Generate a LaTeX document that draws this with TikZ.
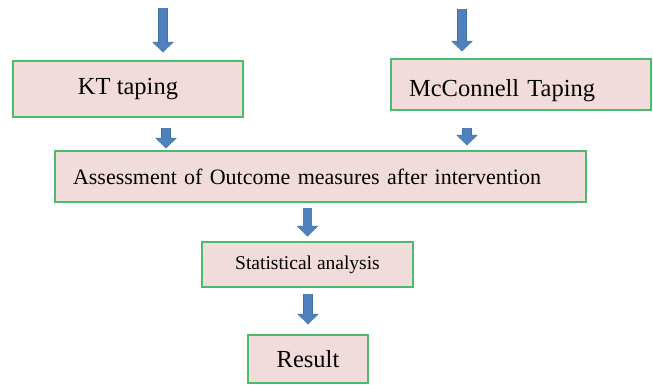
\documentclass[tikz,border=0pt]{standalone}
\usepackage{fontspec}
\setmainfont{Liberation Serif}
\usetikzlibrary{positioning,arrows.meta}
\definecolor{boxfill}{HTML}{F2DCDB}
\definecolor{boxline}{HTML}{4CBB6C}
\definecolor{arrowblue}{HTML}{4F81BD}
\definecolor{arrowedge}{HTML}{41719C}
\tikzset{
  stage/.style     = {rectangle, draw=boxline, line width=1.3pt, fill=boxfill,
                      inner sep=0pt, align=center},
  stageleft/.style = {stage, align=left, inner xsep=18pt},
  blk/.style       = {-{Triangle[width=20pt,length=10pt]}, line width=8.5pt, draw=arrowblue,
                      preaction={draw=arrowedge, line width=9.5pt,
                                 -{Triangle[width=21pt,length=10.5pt]}}},
}
\begin{document}
\begin{tikzpicture}[x=1pt,y=1pt]
  \useasboundingbox (0,0) rectangle (653,-385);

  \node[stage, minimum width=230pt, minimum height=56pt,
        font=\fontsize{24.5}{28}\selectfont] (kt) at (128,-89) {KT taping};
  \node[stageleft, text width=224pt, minimum height=51pt, text height=28pt, text depth=4pt,
        font=\fontsize{24.5}{28}\selectfont] (mcc) at (521,-84.5) {McConnell Taping};
  \node[stageleft, text width=495pt, minimum height=51pt,
        font=\fontsize{22}{26}\selectfont] (assess) at (320.5,-176.5) {Assessment of Outcome measures after intervention};
  \node[stage, minimum width=211pt, minimum height=45pt,
        font=\fontsize{19.5}{23}\selectfont] (stat) at (307.5,-264.5) {Statistical analysis};
  \node[stage, minimum width=120pt, minimum height=48pt,
        font=\fontsize{24.5}{28}\selectfont] (res) at (308,-359) {Result};

  % incoming arrows from above
  \coordinate (ktin) at (163,-8);
  \coordinate (mccin) at (462,-9);
  \draw[blk, shorten >=8pt] (ktin) -- (ktin |- kt.north);
  \draw[blk, shorten >=7pt] (mccin) -- (mccin |- mcc.north);

  \draw[blk, shorten <=10pt, shorten >=2pt] ([xshift=38pt]kt.south) -- ([xshift=38pt]kt.south |- assess.north);
  \draw[blk, shorten <=17pt, shorten >=5pt] ([xshift=-54pt]mcc.south) -- ([xshift=-54pt]mcc.south |- assess.north);
  \draw[blk, shorten <=5pt, shorten >=5pt] (stat.north |- assess.south) -- (stat.north);
  \draw[blk, shorten <=6pt, shorten >=10pt] (res.north |- stat.south) -- (res.north);
\end{tikzpicture}
\end{document}
